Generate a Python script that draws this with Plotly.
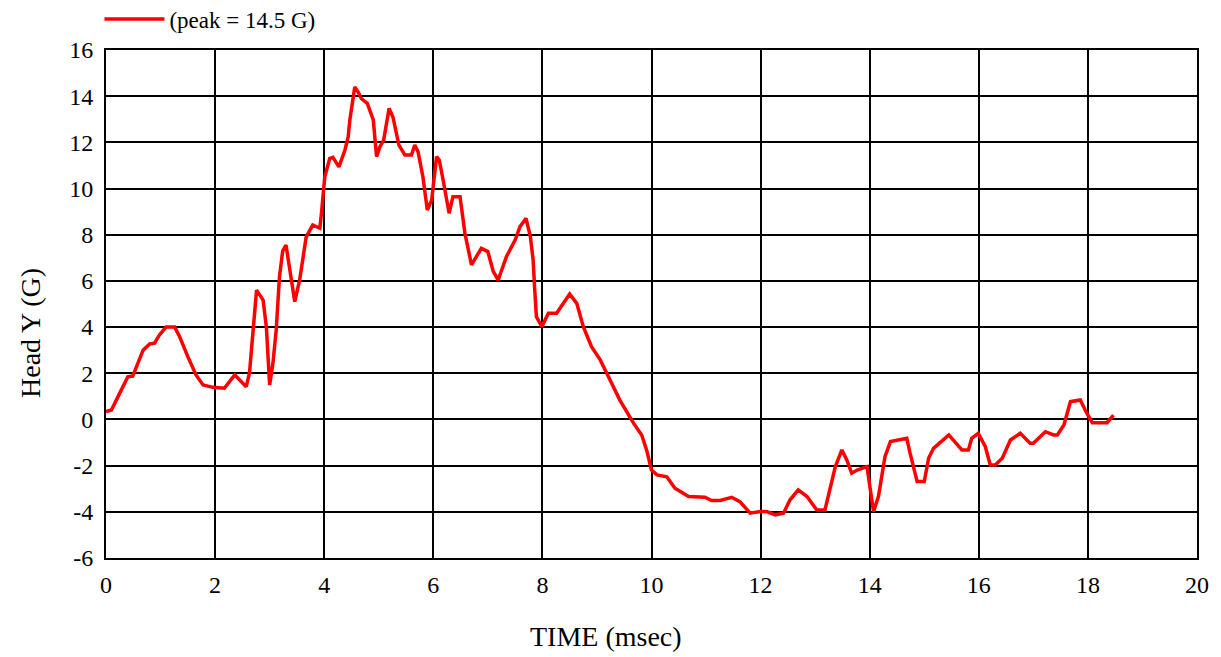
import plotly.graph_objects as go

# Time (msec) and Head Y acceleration (G)
time_ms = [0.0, 0.1, 0.25, 0.4, 0.49, 0.68, 0.8, 0.89, 0.98, 1.1, 1.26, 1.35, 1.5, 1.65,
           1.78, 1.96, 2.17, 2.36, 2.57, 2.63, 2.76, 2.88, 2.94, 3.0, 3.06, 3.12, 3.18,
           3.24, 3.3, 3.46, 3.55, 3.67, 3.79, 3.92, 3.95, 4.01, 4.1, 4.16, 4.27, 4.38,
           4.44, 4.47, 4.56, 4.62, 4.68, 4.79, 4.9, 4.96, 5.02, 5.09, 5.19, 5.26, 5.37,
           5.48, 5.6, 5.66, 5.72, 5.81, 5.89, 5.97, 6.06, 6.11, 6.18, 6.29, 6.36, 6.49,
           6.58, 6.7, 6.88, 7.0, 7.1, 7.19, 7.34, 7.5, 7.59, 7.7, 7.78, 7.83, 7.86,
           7.89, 7.99, 8.11, 8.26, 8.38, 8.5, 8.63, 8.75, 8.9, 9.06, 9.18, 9.42, 9.67,
           9.82, 9.91, 10.0, 10.1, 10.28, 10.43, 10.68, 10.98, 11.1, 11.26, 11.47, 11.62,
           11.81, 11.99, 12.11, 12.27, 12.42, 12.54, 12.69, 12.85, 13.03, 13.18, 13.37,
           13.49, 13.58, 13.67, 13.77, 13.95, 14.07, 14.16, 14.28, 14.38, 14.53, 14.68,
           14.74, 14.87, 15.0, 15.08, 15.17, 15.45, 15.69, 15.81, 15.87, 15.99, 16.12,
           16.21, 16.3, 16.43, 16.58, 16.76, 16.94, 17.0, 17.22, 17.37, 17.44, 17.56,
           17.68, 17.86, 17.98, 18.08, 18.35, 18.47]
head_y_g = [0.34, 0.41, 1.13, 1.85, 1.88, 3.0, 3.27, 3.3, 3.66, 4.0, 4.0, 3.58, 2.72, 1.93,
            1.49, 1.39, 1.35, 1.93, 1.42, 2.0, 5.6, 5.17, 4.0, 1.49, 2.43, 3.87, 6.18,
            7.3, 7.55, 5.1, 6.04, 7.91, 8.42, 8.28, 8.93, 10.5, 11.3, 11.35, 10.94, 11.67,
            12.24, 12.97, 14.4, 14.19, 13.9, 13.69, 12.97, 11.38, 11.8, 12.1, 13.47, 13.1,
            11.88, 11.45, 11.45, 11.88, 11.6, 10.5, 9.07, 9.5, 11.38, 11.23, 10.37, 8.93,
            9.65, 9.65, 8.06, 6.69, 7.41, 7.27, 6.4, 6.04, 7.05, 7.77, 8.35, 8.71, 7.91,
            6.9, 5.6, 4.45, 4.02, 4.6, 4.6, 5.03, 5.43, 5.03, 4.02, 3.15, 2.58, 2.0,
            0.84, -0.16, -0.67, -1.32, -2.19, -2.4, -2.48, -2.98, -3.34, -3.37, -3.51,
            -3.51, -3.37, -3.56, -4.06, -3.99, -3.99, -4.13, -4.06, -3.48, -3.05, -3.34,
            -3.92, -3.92, -2.04, -1.32, -1.75, -2.33, -2.19, -2.04, -3.99, -3.34, -1.61,
            -0.96, -0.89, -0.82, -1.46, -2.69, -2.69, -1.68, -1.25, -0.67, -1.32, -1.32,
            -0.82, -0.6, -1.18, -1.97, -1.97, -1.68, -0.89, -0.6, -1.03, -1.03, -0.53,
            -0.67, -0.67, -0.24, 0.77, 0.84, 0.27, -0.14, -0.14, 0.19]

x_ticks = [0, 2, 4, 6, 8, 10, 12, 14, 16, 18, 20]
y_ticks = [-6, -4, -2, 0, 2, 4, 6, 8, 10, 12, 14, 16]
y_tick_labels = ["-6", "-4", "-2", "0", "2", "4", "6", "8", "10", "12", "14", "16"]
series_name = "(peak = 14.5 G)"
x_title = "TIME (msec)"
y_title = "Head Y (G)"

FONT = "Liberation Serif, Times New Roman, serif"

fig = go.Figure()
fig.add_trace(go.Scatter(
    x=time_ms, y=head_y_g, mode="lines", name=series_name,
    line=dict(color="#ff0000", width=3.5),
))

axis_common = dict(
    showgrid=True, gridcolor="#000000", gridwidth=2,
    showline=True, linecolor="#000000", linewidth=2, mirror=True,
    zeroline=False, ticks="", automargin=False,
    tickfont=dict(family=FONT, size=24, color="#000000"),
)
fig.update_xaxes(range=[0, 20], tickvals=x_ticks, ticklabelstandoff=4, **axis_common)
fig.update_yaxes(range=[-6, 16], tickvals=y_ticks, ticktext=y_tick_labels,
                 ticklabelstandoff=6, **axis_common)

fig.add_annotation(text=x_title, xref="paper", yref="paper", x=(606 - 106.5) / 1090.5,
                   y=0, yshift=-78, xanchor="center", yanchor="middle", showarrow=False,
                   font=dict(family=FONT, size=28, color="#000000"))
fig.add_annotation(text=y_title, xref="paper", yref="paper", x=0, xshift=-76,
                   y=(558 - 333) / 508, xanchor="center", yanchor="middle", showarrow=False,
                   textangle=-90, font=dict(family=FONT, size=28, color="#000000"))

# The page body adds an 8px offset, so the figure is sized to fit the window.
fig.update_layout(
    width=1213, height=649,
    margin=dict(l=98, r=24, t=42, b=99, autoexpand=False),
    paper_bgcolor="#ffffff", plot_bgcolor="#ffffff",
    showlegend=True,
    legend=dict(x=-0.006, y=1.061, xanchor="left", yanchor="middle", itemwidth=60,
                bgcolor="rgba(0,0,0,0)", font=dict(family=FONT, size=23, color="#000000")),
)

fig.write_html("out.html")
